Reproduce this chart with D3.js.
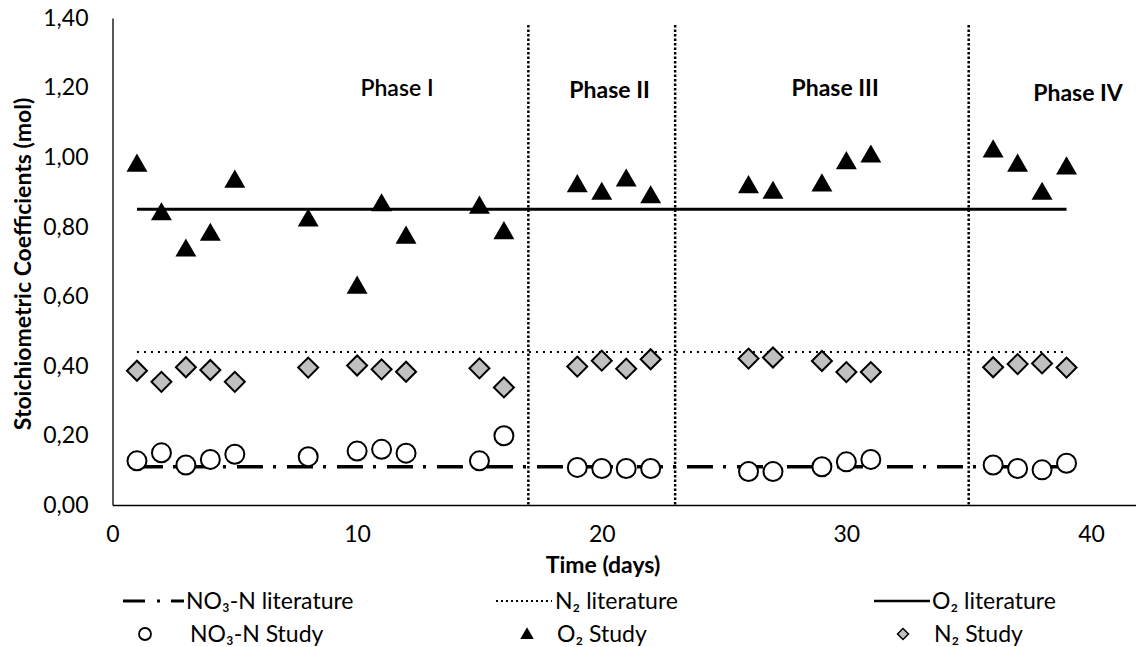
<!DOCTYPE html>
<html><head><meta charset="utf-8">
<script src="https://cdn.jsdelivr.net/npm/d3@7"></script>
<style>
html,body{margin:0;padding:0;background:#fff;}
svg{display:block;font-family:Lato,"Open Sans",sans-serif;}
</style></head>
<body>
<svg id="chart" width="1136" height="647"></svg>
<script>
// ---- data ----
const o2Days = [1,2,3,4,5,8,10,11,12,15,16,19,20,21,22,26,27,29,30,31,36,37,38,39];
const o2Study = [0.98,0.84,0.736,0.781,0.934,0.822,0.629,0.866,0.773,0.859,0.786,0.921,0.899,0.937,0.889,0.918,0.902,0.923,0.987,1.006,1.021,0.980,0.899,0.972];
const n2Days = [1,2,3,4,5,8,10,11,12,15,16,19,20,21,22,26,27,29,30,31,36,37,38,39];
const n2Study = [0.386,0.354,0.396,0.388,0.354,0.395,0.401,0.390,0.383,0.393,0.338,0.398,0.415,0.392,0.419,0.421,0.424,0.414,0.382,0.382,0.396,0.405,0.407,0.395];
const no3Days = [1,2,3,4,5,8,10,11,12,15,16,19,20,21,22,26,27,29,30,31,36,37,38,39];
const no3Study = [0.127,0.150,0.115,0.131,0.146,0.139,0.155,0.160,0.149,0.127,0.199,0.108,0.105,0.105,0.105,0.096,0.096,0.110,0.124,0.131,0.115,0.105,0.101,0.120];
const litRange = [1,39];
const o2Lit = 0.85;
const n2Lit = 0.44;
const no3Lit = 0.11;
const phaseBounds = [17,23,35];
const phaseLabels = ["Phase I","Phase II","Phase III","Phase IV"];
const phaseLabelX = [11.63,20.32,29.54,39.47];
const phaseLabelY = [1.199,1.193,1.199,1.184];
const xTicks = [0,10,20,30,40];
const yTicks = [0,0.2,0.4,0.6,0.8,1.0,1.2,1.4];

// ---- layout ----
const svg = d3.select("#chart");
const x = d3.scaleLinear().domain([0,42]).range([112.5, 112.5 + 42*24.4625]);
const y = d3.scaleLinear().domain([0,1.4]).range([505,18]);
const fmt = d3.formatLocale({decimal:",",thousands:".",grouping:[3],currency:["",""]}).format(".2f");

// axes
const gx = svg.append("g").attr("transform","translate(0,505)")
  .call(d3.axisBottom(x).tickValues(xTicks).tickSize(0).tickPadding(21).tickFormat(d3.format("d")));
const gy = svg.append("g").attr("transform","translate(112.5,0)")
  .call(d3.axisLeft(y).tickValues(yTicks).tickSize(0).tickPadding(24).tickFormat(fmt));
[gx,gy].forEach(g=>{
  g.select(".domain").attr("stroke","#000").attr("stroke-width",1.3);
  g.selectAll("text").attr("font-size",23).attr("fill","#000").attr("font-family","Lato,sans-serif");
});

// axis titles
svg.append("text").attr("x",603).attr("y",565).attr("dy","0.35em").attr("text-anchor","middle")
  .attr("font-size",23).attr("font-weight","bold").text("Time (days)");
svg.append("text").attr("transform","translate(23,264) rotate(-90)").attr("dy","0.35em").attr("text-anchor","middle")
  .attr("font-size",23).attr("font-weight","bold").text("Stoichiometric Coefficients (mol)");

// literature lines
const litLine = (v)=> d3.line()([[x(litRange[0]),y(v)],[x(litRange[1]),y(v)]]);
svg.append("path").attr("d",litLine(no3Lit)).attr("stroke","#000").attr("stroke-width",3.5)
  .attr("stroke-dasharray","26,10,3,11").attr("fill","none");
svg.append("path").attr("d",litLine(n2Lit)).attr("stroke","#000").attr("stroke-width",2)
  .attr("stroke-dasharray","2,5").attr("fill","none");
svg.append("path").attr("d",litLine(o2Lit)).attr("stroke","#000").attr("stroke-width",3)
  .attr("fill","none");

// phase lines
svg.selectAll(".phase").data(phaseBounds).enter().append("line")
  .attr("x1",d=>x(d)).attr("x2",d=>x(d)).attr("y1",y(1.38)).attr("y2",y(0))
  .attr("stroke","#000").attr("stroke-width",2.5).attr("stroke-dasharray","2.5,2");

// phase labels
svg.selectAll(".plabel").data(phaseLabels).enter().append("text")
  .attr("x",(d,i)=>x(phaseLabelX[i])).attr("y",(d,i)=>y(phaseLabelY[i])).attr("dy","0.35em")
  .attr("text-anchor","middle").attr("font-size",23).attr("font-weight",(d,i)=>i===0?"600":"bold")
  .text(d=>d);

// markers
const tri = d3.symbol().type(d3.symbolTriangle).size(190);
const sq = d3.symbol().type(d3.symbolSquare).size(200);

svg.selectAll(".no3").data(no3Days).enter().append("circle")
  .attr("cx",d=>x(d)).attr("cy",(d,i)=>y(no3Study[i])).attr("r",9.5)
  .attr("fill","#fff").attr("stroke","#000").attr("stroke-width",2);
svg.selectAll(".n2").data(n2Days).enter().append("path")
  .attr("d",sq).attr("transform",(d,i)=>`translate(${x(d)},${y(n2Study[i])}) rotate(45)`)
  .attr("fill","#c0c0c0").attr("stroke","#000").attr("stroke-width",2);
svg.selectAll(".o2").data(o2Days).enter().append("path")
  .attr("d",tri).attr("transform",(d,i)=>`translate(${x(d)},${y(o2Study[i])+1.5})`)
  .attr("fill","#000");

// legend
const lg = svg.append("g").attr("font-size",23);
const row1 = 601, row2 = 634;
lg.append("path").attr("d",d3.line()([[123,row1],[184,row1]])).attr("stroke","#000").attr("stroke-width",3)
  .attr("stroke-dasharray","22,12,3,11,13");
lg.append("text").attr("x",186).attr("y",row1).attr("dy","0.35em").text("NO₃-N literature");
lg.append("path").attr("d",d3.line()([[496,row1],[552,row1]])).attr("stroke","#000").attr("stroke-width",1.8)
  .attr("stroke-dasharray","2,3");
lg.append("text").attr("x",555).attr("y",row1).attr("dy","0.35em").text("N₂ literature");
lg.append("path").attr("d",d3.line()([[874,row1],[930,row1]])).attr("stroke","#000").attr("stroke-width",2.5);
lg.append("text").attr("x",932).attr("y",row1).attr("dy","0.35em").text("O₂ literature");
lg.append("circle").attr("cx",145).attr("cy",row2).attr("r",6).attr("fill","#fff").attr("stroke","#000").attr("stroke-width",1.8);
lg.append("text").attr("x",190).attr("y",row2).attr("dy","0.35em").text("NO₃-N Study");
lg.append("path").attr("d",d3.symbol().type(d3.symbolTriangle).size(80)).attr("transform",`translate(527,${row2+1})`).attr("fill","#000");
lg.append("text").attr("x",557).attr("y",row2).attr("dy","0.35em").text("O₂ Study");
lg.append("path").attr("d",d3.symbol().type(d3.symbolSquare).size(60)).attr("transform",`translate(903,${row2}) rotate(45)`)
  .attr("fill","#c0c0c0").attr("stroke","#000").attr("stroke-width",1.5);
lg.append("text").attr("x",934).attr("y",row2).attr("dy","0.35em").text("N₂ Study");
</script>
</body></html>
